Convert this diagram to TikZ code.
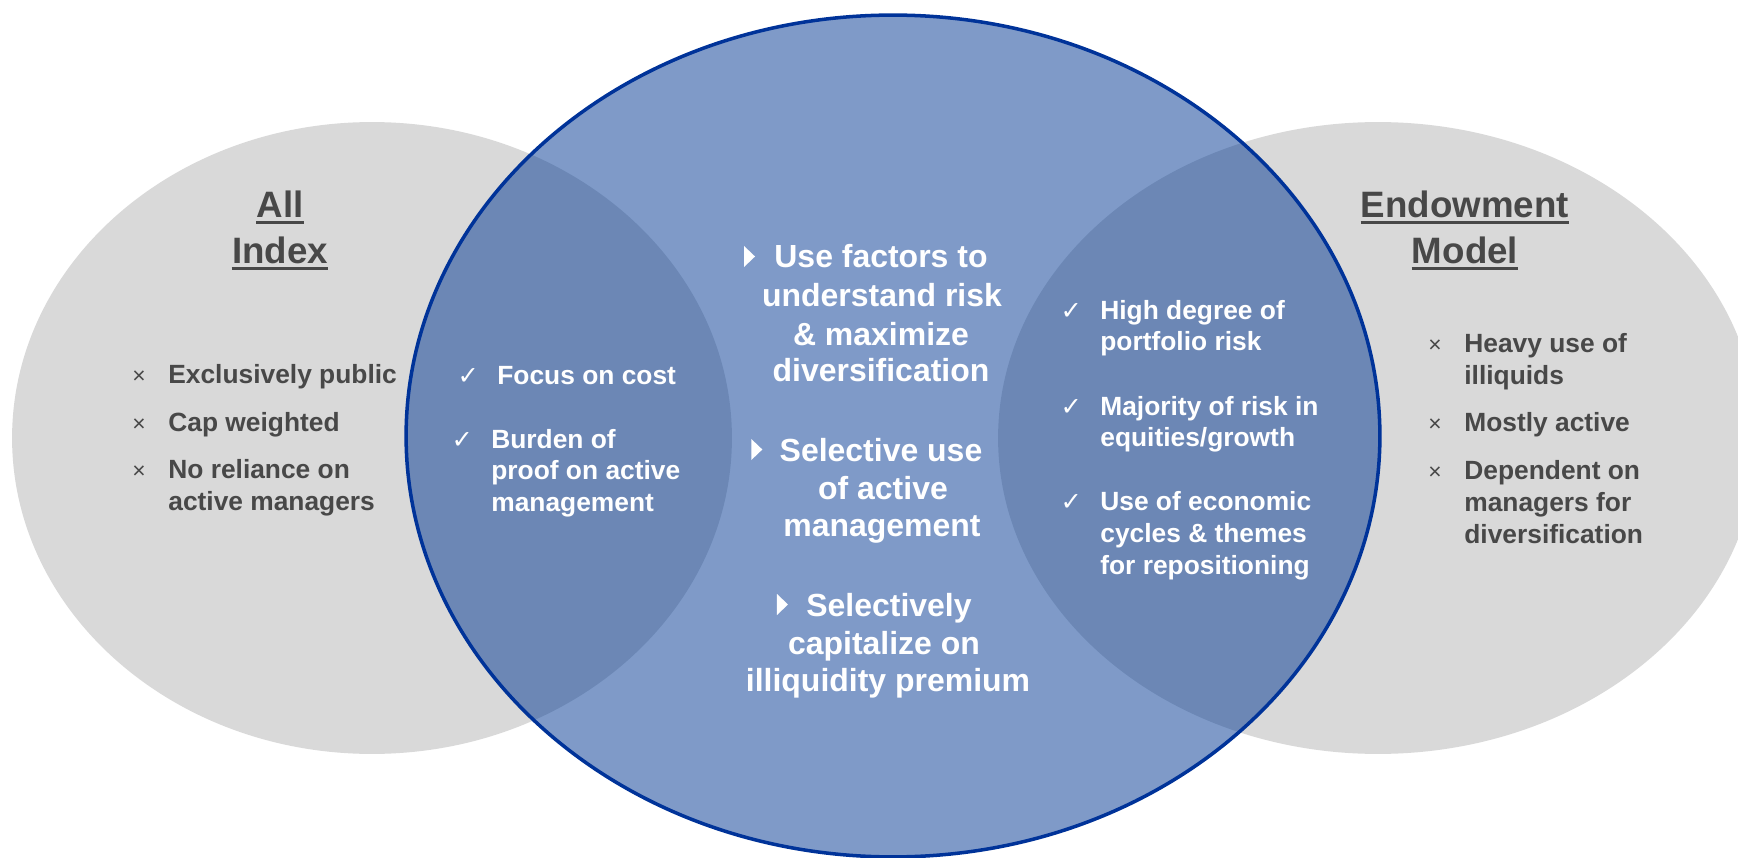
\documentclass[tikz,border=0pt]{standalone}
\usepackage{fontspec}
\setmainfont{Liberation Sans}
\newfontfamily\symfont{DejaVu Sans}
\usetikzlibrary{calc}

\definecolor{sidegray}{RGB}{217,217,217}
\definecolor{coreblue}{RGB}{0,55,147}
\definecolor{coreline}{RGB}{0,51,153}
\definecolor{textgray}{RGB}{72,72,72}

\begin{document}
\begin{tikzpicture}[x=0.02cm, y=-0.02cm,
  sidefill/.style={fill=sidegray},
  corefill/.style={fill=coreblue, fill opacity=0.5, draw=coreline, line width=2pt},
  titletext/.style={text=textgray, font=\fontsize{20.9}{25}\selectfont\bfseries, inner sep=0, anchor=base},
  underline/.style={draw=textgray, line width=1.5pt},
  listtext/.style={text=textgray, font=\fontsize{15}{18}\selectfont\bfseries, inner sep=0, anchor=base west},
  overtext/.style={listtext, text=white},
  coretext/.style={text=white, font=\fontsize{18.2}{21.5}\selectfont\bfseries, inner sep=0, anchor=base},
  crossmark/.style={text=textgray, font=\fontsize{13}{14}\selectfont, inner sep=0, anchor=base east},
  tickmark/.style={text=white, font=\symfont\fontsize{14.5}{16}\selectfont, inner sep=0, anchor=base east},
  pointer/.style={fill=white}
]
% canvas
\fill[white] (0,0) rectangle (1738,858);
\useasboundingbox (0,0) rectangle (1738,858);

% the three ellipses
\fill[sidefill] (372,438) ellipse [x radius=7.2cm, y radius=6.32cm];
\fill[sidefill] (1378,438) ellipse [x radius=7.6cm, y radius=6.32cm];
\path[corefill] (893,436) ellipse [x radius=9.74cm, y radius=8.42cm];

% left title
\node[titletext] (tAll) at (280,218) {All};
\node[titletext] (tIndex) at (280,264) {Index};
\draw[underline] ([yshift=-2.6pt]tAll.base west) -- ([yshift=-2.6pt]tAll.base east);
\draw[underline] ([yshift=-2.6pt]tIndex.base west) -- ([yshift=-2.6pt]tIndex.base east);

% right title
\node[titletext] (tEnd) at (1465,218) {Endowment};
\node[titletext] (tModel) at (1465,264) {Model};
\draw[underline] ([yshift=-2.6pt]tEnd.base west) -- ([yshift=-2.6pt]tEnd.base east);
\draw[underline] ([yshift=-2.6pt]tModel.base west) -- ([yshift=-2.6pt]tModel.base east);

% left list
\node[listtext] (l1) at (168,383) {Exclusively public};
\node[listtext] (l2) at (168,431) {Cap weighted};
\node[listtext] (l3) at (168,478) {No reliance on};
\node[listtext] (l3b) at (168,510) {active managers};
\node[crossmark] (x1) at ([xshift=-12.5pt]l1.base west) {×};
\node[crossmark] (x2) at ([xshift=-12.5pt]l2.base west) {×};
\node[crossmark] (x3) at ([xshift=-12.5pt]l3.base west) {×};

% right list
\node[listtext] (r1) at (1464,352) {Heavy use of};
\node[listtext] (r1b) at (1464,384) {illiquids};
\node[listtext] (r2) at (1464,431) {Mostly active};
\node[listtext] (r3) at (1464,479) {Dependent on};
\node[listtext] (r3b) at (1464,511) {managers for};
\node[listtext] (r3c) at (1464,543) {diversification};
\node[crossmark] (y1) at ([xshift=-12.5pt]r1.base west) {×};
\node[crossmark] (y2) at ([xshift=-12.5pt]r2.base west) {×};
\node[crossmark] (y3) at ([xshift=-12.5pt]r3.base west) {×};

% left overlap
\node[overtext] (a1) at (497,384) {Focus on cost};
\node[overtext] (a2) at (491,448) {Burden of};
\node[overtext] (a2b) at (491,479) {proof on active};
\node[overtext] (a2c) at (491,511) {management};
\node[tickmark] (k1) at ([xshift=-10pt]a1.base west) {✓};
\node[tickmark] (k2) at ([xshift=-10pt]a2.base west) {✓};

% right overlap
\node[overtext] (b1) at (1100,319) {High degree of};
\node[overtext] (b1b) at (1100,350) {portfolio risk};
\node[overtext] (b2) at (1100,415) {Majority of risk in};
\node[overtext] (b2b) at (1100,446) {equities/growth};
\node[overtext] (b3) at (1100,510) {Use of economic};
\node[overtext] (b3b) at (1100,542) {cycles \& themes};
\node[overtext] (b3c) at (1100,574) {for repositioning};
\node[tickmark] (m1) at ([xshift=-10pt]b1.base west) {✓};
\node[tickmark] (m2) at ([xshift=-10pt]b2.base west) {✓};
\node[tickmark] (m3) at ([xshift=-10pt]b3.base west) {✓};

% centre
\node[coretext] (c11) at (881,268) {Use factors to};
\node[coretext] (c12) at (882,307) {understand risk};
\node[coretext] (c13) at (881,345) {\& maximize};
\node[coretext] (c14) at (881,381) {diversification};
\node[coretext] (c21) at (881,461) {Selective use};
\node[coretext] (c22) at (883,499) {of active};
\node[coretext] (c23) at (882,536) {management};
\node[coretext] (c31) at (889,616) {Selectively};
\node[coretext] (c32) at (884,654) {capitalize on};
\node[coretext] (c33) at (888,691) {illiquidity premium};
\fill[pointer] ($(c11.base west)+(-30,-22)$) -- ++(0,21) -- ++(11,-10.5) -- cycle;
\fill[pointer] ($(c21.base west)+(-28,-22)$) -- ++(0,21) -- ++(11,-10.5) -- cycle;
\fill[pointer] ($(c31.base west)+(-29,-22)$) -- ++(0,21) -- ++(11,-10.5) -- cycle;
\end{tikzpicture}
\end{document}
